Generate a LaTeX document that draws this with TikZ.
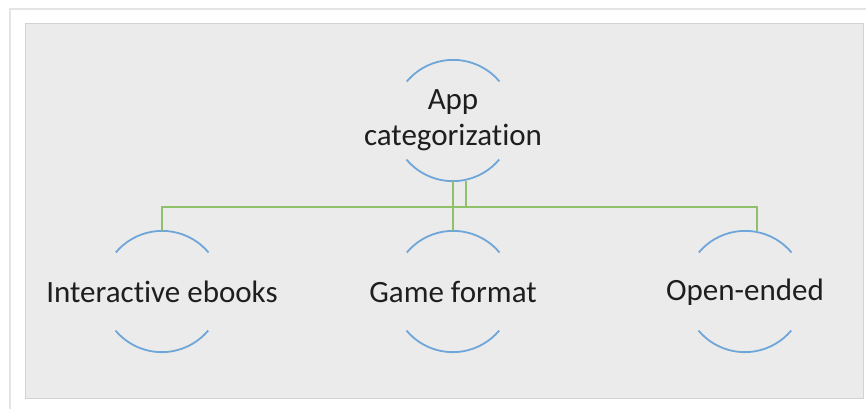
\documentclass[tikz,border=0pt]{standalone}
\usepackage{fontspec}
\setmainfont[Ligatures=NoCommon]{Carlito}
\usetikzlibrary{calc}
\definecolor{panel}{HTML}{EBEBEB}
\definecolor{panelrule}{HTML}{D2D2D2}
\definecolor{framerule}{HTML}{E4E4E4}
\definecolor{ringblue}{HTML}{6FA6DA}
\definecolor{linkgreen}{HTML}{8DC26A}
\definecolor{ink}{HTML}{1E1E1E}
\tikzset{
  ring/.style={circle, minimum size=121pt, inner sep=0pt},
  caption/.style={font=\fontsize{31}{36}\selectfont, text=ink, align=center, inner sep=0pt},
  arcline/.style={draw=ringblue, line width=1.8pt},
  conn/.style={draw=linkgreen, line width=1.6pt},
}
\begin{document}
\begin{tikzpicture}[x=1pt, y=-1pt]
  \useasboundingbox (0,0) rectangle (866,408);
  % outer sheet and grey panel
  \begin{scope}
    \clip (0,0) rectangle (866,408);
    \draw[framerule, line width=1.5pt, fill=white] (10,9) rectangle (890,430);
  \end{scope}
  \draw[panelrule, fill=panel, line width=0.8pt] (25,23) rectangle (863,398);

  % ring positions
  \node[ring] (ctop)   at (453,120.5) {};
  \node[ring] (cleft)  at (162,291.5) {};
  \node[ring] (cmid)   at (453,291.5) {};
  \node[ring] (cright) at (745,291.5) {};

  % captions
  \node[caption] (ttop)   at (453,120) {App\\categorization};
  \node[caption] (tleft)  at (162,292) {Interactive ebooks};
  \node[caption] (tmid)   at (453,292) {Game format};
  \node[caption] (tright) at (745,292) {Open-ended};

  % open rings: an upper and a lower arc around each caption
  \foreach \c in {ctop,cleft,cmid,cright}{
    \draw[arcline] (\c.40) arc[start angle=-40, end angle=-140, radius=60.5];
    \draw[arcline] (\c.220) arc[start angle=-220, end angle=-320, radius=60.5];
  }

  % connectors
  \coordinate (bus) at (0,207);
  \coordinate (tport) at ($(ctop.south)+(13,0)$);
  \coordinate (rport) at ($(cright.north)+(12,0)$);
  \draw[conn] (ctop.south) -- (cmid.north);
  \draw[conn] (tport) -- (tport |- bus);
  \draw[conn] (cleft.north) -- (cleft.north |- bus) -- (rport |- bus) -- (rport);
\end{tikzpicture}
\end{document}
